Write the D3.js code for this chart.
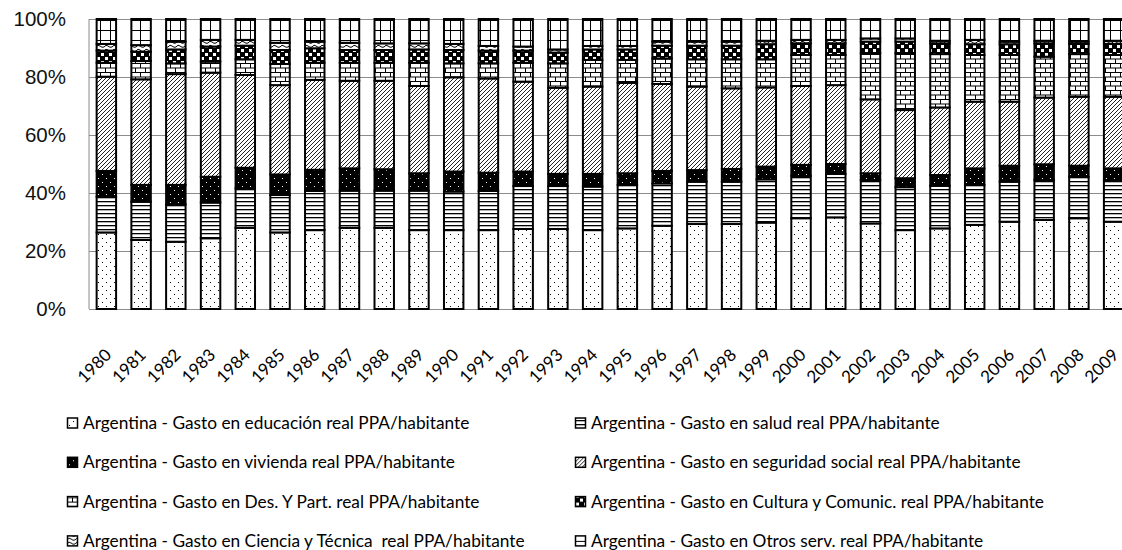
<!DOCTYPE html>
<html>
<head>
<meta charset="utf-8">
<script src="https://cdn.jsdelivr.net/npm/d3@7"></script>
<style>
  body { margin: 0; background: #fff; }
  svg { display: block; font-family: Lato, 'Open Sans', sans-serif; }
</style>
</head>
<body>
<div class="chart"></div>
<script>
const years = ['1980','1981','1982','1983','1984','1985','1986','1987','1988','1989',
  '1990','1991','1992','1993','1994','1995','1996','1997','1998','1999',
  '2000','2001','2002','2003','2004','2005','2006','2007','2008','2009'];

// share of each item in the total, %
const educacion = [26.4,23.8,23.2,24.4,28.0,26.4,27.2,28.0,28.0,27.2,27.2,27.2,27.6,27.6,27.2,27.8,28.7,29.3,29.3,29.8,31.3,31.6,29.5,27.2,27.8,29.0,30.1,30.7,31.3,30.1];
const salud = [12.3,13.2,12.9,12.3,13.6,12.9,13.5,12.8,12.8,13.6,13.3,13.5,14.8,14.8,15.0,15.0,14.6,14.6,14.6,14.9,14.6,15.0,15.0,14.8,14.7,13.8,13.8,13.8,14.3,14.4];
const vivienda = [8.9,5.8,6.7,8.9,7.1,7.1,7.3,7.7,7.4,6.0,6.9,6.3,5.0,4.2,4.4,4.0,4.3,4.0,4.4,4.4,3.8,3.4,2.3,3.1,3.7,5.7,5.5,5.4,3.8,4.0];
const seguridad = [32.5,36.4,38.2,35.9,32.0,30.8,31.0,30.2,30.5,30.1,32.5,32.5,31.0,29.7,30.1,31.2,30.0,28.8,27.8,27.3,27.2,27.2,25.5,23.5,23.3,23.0,22.1,23.0,23.8,24.7];
const desarrollo = [4.8,6.3,3.7,3.8,5.4,7.3,5.9,6.2,6.2,8.0,4.8,5.2,6.5,8.4,9.2,7.9,8.8,9.4,10.0,9.7,10.7,10.4,15.9,19.6,18.4,16.1,16.1,14.1,14.7,14.4];
const cultura = [4.2,3.2,4.8,5.2,4.7,4.8,5.0,4.4,4.4,4.6,4.6,4.4,4.2,3.7,3.6,3.6,4.4,4.7,4.7,5.2,4.0,4.0,4.0,4.0,3.7,3.7,3.7,4.6,3.5,3.8];
const ciencia = [2.3,2.3,2.7,2.3,2.0,2.5,2.3,2.5,2.3,2.1,2.1,1.6,1.4,1.1,1.2,1.2,1.4,1.4,1.4,1.2,1.2,1.2,1.1,1.1,0.9,1.5,0.9,0.9,0.8,1.1];
const otros = [8.6,9.0,7.8,7.2,7.2,8.2,7.8,8.2,8.4,8.4,8.6,9.3,9.5,10.5,9.3,9.3,7.8,7.8,7.8,7.5,7.2,7.2,6.7,6.7,7.5,7.2,7.8,7.5,7.8,7.5];

const seriesNames = [
  'Argentina - Gasto en educación real PPA/habitante',
  'Argentina - Gasto en salud real PPA/habitante',
  'Argentina - Gasto en vivienda real PPA/habitante',
  'Argentina - Gasto en seguridad social real PPA/habitante',
  'Argentina - Gasto en Des. Y Part. real PPA/habitante',
  'Argentina - Gasto en Cultura y Comunic. real PPA/habitante',
  'Argentina - Gasto en Ciencia y Técnica  real PPA/habitante',
  'Argentina - Gasto en Otros serv. real PPA/habitante'
];
const seriesValues = [educacion, salud, vivienda, seguridad, desarrollo, cultura, ciencia, otros];
const patternIds = ['p-dots', 'p-hlines', 'p-blackdots', 'p-diag', 'p-brick', 'p-confetti', 'p-wave', 'p-grid'];

const width = 1122;
const height = 550;
const plot = { left: 89, right: 1131, top: 19, bottom: 309 };

const svg = d3.select('.chart')
  .append('svg')
    .attr('width', width)
    .attr('height', height);

// --- fill patterns, like the old excel black & white ones
const defs = svg.append('defs');

function pattern(id, w, h, bg) {
  const p = defs.append('pattern')
    .attr('id', id)
    .attr('patternUnits', 'userSpaceOnUse')
    .attr('width', w)
    .attr('height', h);
  p.append('rect').attr('width', w).attr('height', h).attr('fill', bg);
  return p;
}

let p = pattern('p-dots', 8, 8, '#fff');
p.append('rect').attr('x', 2).attr('y', 2).attr('width', 1).attr('height', 1).attr('fill', '#000');
p.append('rect').attr('x', 6).attr('y', 6).attr('width', 1).attr('height', 1).attr('fill', '#000');

p = pattern('p-hlines', 4, 4, '#fff');
p.append('rect').attr('x', 0).attr('y', 1).attr('width', 4).attr('height', 1.3).attr('fill', '#000');

p = pattern('p-blackdots', 8, 8, '#000');
p.append('rect').attr('x', 2).attr('y', 2).attr('width', 1).attr('height', 1).attr('fill', '#fff');
p.append('rect').attr('x', 6).attr('y', 6).attr('width', 1).attr('height', 1).attr('fill', '#fff');

p = pattern('p-diag', 4, 4, '#fff');
p.append('path')
  .attr('d', 'M-1,1 L1,-1 M0,4 L4,0 M3,5 L5,3')
  .attr('stroke', '#222')
  .attr('stroke-width', 1);

p = pattern('p-brick', 10, 9, '#fff');
p.append('path')
  .attr('d', 'M0,0.5 H10 M0,5 H10 M0.5,0.5 V5 M5.5,5 V9')
  .attr('stroke', '#000')
  .attr('stroke-width', 1)
  .attr('fill', 'none');

p = pattern('p-confetti', 8, 8, '#000');
p.append('rect').attr('x', 1).attr('y', 1).attr('width', 3).attr('height', 3).attr('fill', '#fff');
p.append('rect').attr('x', 5).attr('y', 5).attr('width', 3).attr('height', 3).attr('fill', '#fff');

p = pattern('p-wave', 8, 4, '#fff');
p.append('path')
  .attr('d', 'M0,3 Q2,0 4,2 T8,3')
  .attr('stroke', '#000')
  .attr('stroke-width', 1)
  .attr('fill', 'none');

p = pattern('p-grid', 10, 10, '#fff');
p.append('path')
  .attr('d', 'M0,0.5 H10 M0.5,0 V10')
  .attr('stroke', '#000')
  .attr('stroke-width', 1);

// --- data / scales
const table = years.map((year, i) => {
  const row = { year };
  seriesValues.forEach((vals, k) => row[k] = vals[i]);
  return row;
});

const stack = d3.stack()
  .keys(d3.range(seriesValues.length))
  .offset(d3.stackOffsetExpand);
const layers = stack(table);

const x = d3.scaleBand()
  .domain(years)
  .range([plot.left, plot.right])
  .paddingInner(0.44)
  .paddingOuter(0.22);

const y = d3.scaleLinear()
  .domain([0, 1])
  .range([plot.bottom, plot.top]);

// gridlines + y labels
const yAxis = svg.append('g')
  .attr('transform', `translate(${plot.left},0)`)
  .call(d3.axisLeft(y)
    .tickValues([0, 0.2, 0.4, 0.6, 0.8, 1])
    .tickFormat(d3.format('.0%'))
    .tickSize(-(plot.right - plot.left))
    .tickPadding(23));
yAxis.select('.domain').remove();
yAxis.selectAll('.tick line')
  .attr('stroke', '#8c8c8c')
  .attr('stroke-width', 1);
yAxis.selectAll('.tick text')
  .attr('fill', '#111')
  .attr('font-size', 20.5);

svg.append('line')
  .attr('x1', plot.left).attr('x2', plot.left)
  .attr('y1', plot.top).attr('y2', plot.bottom)
  .attr('stroke', '#8c8c8c');

// bars
svg.append('g')
  .selectAll('g')
  .data(layers)
  .join('g')
    .attr('fill', (d, i) => `url(#${patternIds[i]})`)
  .selectAll('rect')
  .data(d => d)
  .join('rect')
    .attr('x', d => x(d.data.year))
    .attr('y', d => y(d[1]))
    .attr('width', x.bandwidth())
    .attr('height', d => y(d[0]) - y(d[1]))
    .attr('stroke', '#000')
    .attr('stroke-width', 2);

// year labels
svg.append('g')
  .selectAll('text')
  .data(years)
  .join('text')
    .attr('transform', d => `translate(${x(d) + x.bandwidth() / 2 + 6},356) rotate(-45)`)
    .attr('text-anchor', 'end')
    .attr('font-size', 17)
    .attr('fill', '#000')
    .text(d => d);

// legend, two columns
const legend = svg.append('g')
  .selectAll('g')
  .data(seriesNames)
  .join('g')
    .attr('transform', (d, i) => `translate(${i % 2 ? 575 : 67},${423 + Math.floor(i / 2) * 39.3})`);

legend.append('rect')
  .attr('x', 0.5)
  .attr('y', -5)
  .attr('width', 10)
  .attr('height', 10)
  .attr('fill', (d, i) => `url(#${patternIds[i]})`)
  .attr('stroke', '#000')
  .attr('stroke-width', 1.5);

legend.append('text')
  .attr('x', 16)
  .attr('dy', '0.35em')
  .attr('font-size', 17.3)
  .attr('fill', '#000')
  .style('white-space', 'pre')
  .text(d => d);
</script>
</body>
</html>
